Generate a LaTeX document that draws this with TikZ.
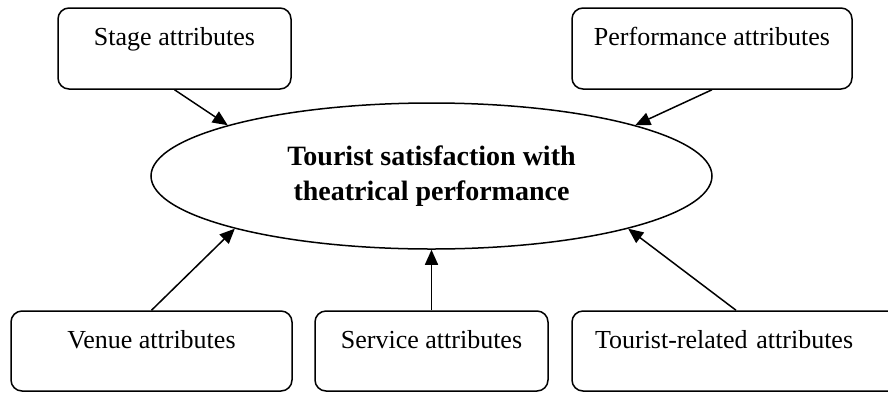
\documentclass[tikz,border=0pt]{standalone}
\usepackage{fontspec}
\setmainfont{Liberation Serif}
\usetikzlibrary{arrows.meta,shapes.geometric}

\tikzset{
  attrbox/.style={draw, line width=1.5pt, rounded corners=11pt, inner sep=0pt,
    text height=37pt, font=\fontsize{26}{31}\selectfont},
  topbox/.style={attrbox, text depth=44pt},
  lowbox/.style={attrbox, text depth=43pt},
  link/.style={line width=1.5pt, -{Triangle[length=15pt,width=13pt]}}
}

\begin{document}
\begin{tikzpicture}[x=1pt,y=-1pt]
\useasboundingbox (0,0) rectangle (888,392);

% Central outcome
\node[ellipse, draw, line width=1.5pt, inner sep=0pt, minimum width=561pt, minimum height=146pt,
  align=center, font=\fontsize{28}{35}\selectfont\bfseries] (satisf) at (431.5,176)
  {Tourist satisfaction with\\theatrical performance};

% Upper attribute groups
\node[topbox, minimum width=233pt] (stage) at (174.5,48.5) {Stage attributes};
\node[topbox, minimum width=280pt] (perf) at (712,48.5) {Performance attributes};

% Lower attribute groups
\node[lowbox, minimum width=281pt] (venue) at (151.5,351) {Venue attributes};
\node[lowbox, minimum width=233pt] (service) at (431.5,351) {Service attributes};
\node[lowbox, text width=282pt, align=left, inner xsep=23pt] (tourist) at (736,351) {Tourist-related attributes};

% Influences
\draw[link] (stage.south) -- (satisf.166);
\draw[link] (perf.south) -- (satisf.14);
\draw[link] (venue.north) -- (satisf.195);
\draw[link] (service.north) -- (satisf.south);
\draw[link] (tourist.north) -- (satisf.345);
\end{tikzpicture}
\end{document}
